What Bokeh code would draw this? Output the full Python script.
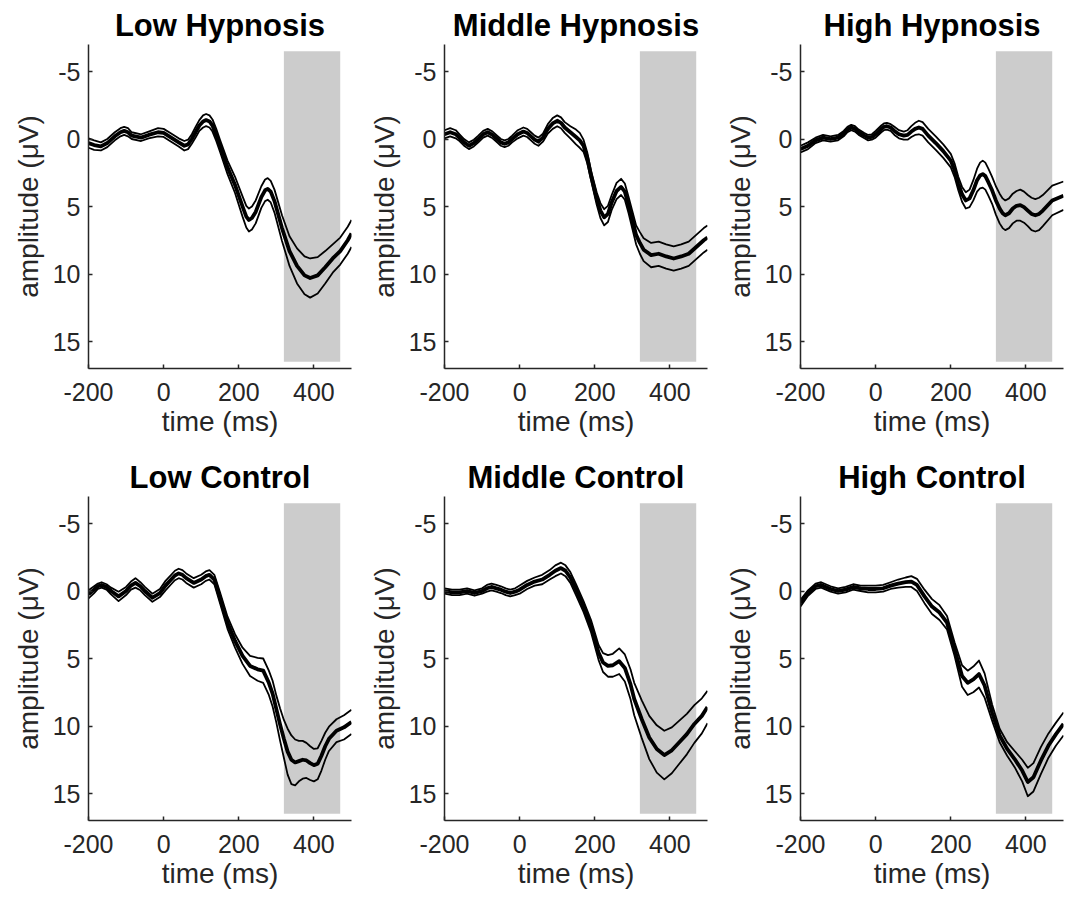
import numpy as np
from bokeh.plotting import figure
from bokeh.models import Range1d, FixedTicker
from bokeh.layouts import row, column
from bokeh.embed import file_html
from bokeh.resources import INLINE

TITLES = ["Low Hypnosis", "Middle Hypnosis", "High Hypnosis",
          "Low Control", "Middle Control", "High Control"]
X_TICKS = [-200, 0, 200, 400]
Y_TICKS = [-5, 0, 5, 10, 15]
X_LIMITS = [-200, 500]
Y_LIMITS = [-7, 17]
WINDOW_T = [320, 470]
WINDOW_AMP = [-6.5, 16.5]

# Low Hypnosis
LH_T = [-200, -185, -167, -150, -130, -115, -105, -95, -85, -60,
        -40, -15, 0, 20, 40, 55, 65, 75, 85, 95,
        105, 113, 122, 130, 140, 150, 170, 190, 210, 220,
        227, 235, 245, 260, 270, 277, 285, 295, 315, 335,
        355, 375, 390, 410, 430, 450, 470, 490, 500]
LH_MEAN = [0.3, 0.45, 0.55, 0.3, -0.2, -0.5, -0.6, -0.5, -0.25, -0.1,
           -0.3, -0.5, -0.45, -0.1, 0.25, 0.5, 0.4, 0.0, -0.5, -1.0,
           -1.3, -1.4, -1.3, -1.0, -0.3, 0.5, 2.1, 3.4, 5.0, 5.75,
           6.0, 5.85, 5.4, 4.3, 3.8, 3.7, 3.9, 4.6, 6.6, 8.3,
           9.4, 10.1, 10.3, 10.1, 9.5, 8.85, 8.3, 7.5, 7.0]
LH_SE = [0.35, 0.35, 0.3, 0.3, 0.3, 0.3, 0.3, 0.3, 0.25, 0.25,
         0.25, 0.3, 0.3, 0.3, 0.3, 0.35, 0.35, 0.35, 0.4, 0.4,
         0.45, 0.45, 0.45, 0.45, 0.45, 0.45, 0.5, 0.6, 0.75, 0.8,
         0.85, 0.85, 0.85, 0.8, 0.8, 0.8, 0.8, 0.85, 0.95, 1.1,
         1.3, 1.4, 1.45, 1.35, 1.2, 1.05, 1.0, 1.0, 1.0]

# Middle Hypnosis
MH_T = [-200, -185, -170, -160, -148, -135, -122, -110, -97, -85,
        -72, -60, -50, -40, -30, -20, -5, 10, 20, 30,
        40, 50, 62, 75, 88, 100, 110, 120, 135, 150,
        160, 170, 180, 190, 205, 215, 225, 235, 245, 258,
        270, 280, 290, 300, 310, 320, 330, 350, 370, 390,
        410, 430, 450, 470, 490, 500]
MH_MEAN = [-0.35, -0.5, -0.35, -0.1, 0.25, 0.5, 0.3, 0.0, -0.35, -0.5,
           -0.3, 0.0, 0.25, 0.35, 0.25, 0.0, -0.35, -0.55, -0.45, -0.2,
           0.05, 0.2, -0.1, -0.75, -1.15, -1.35, -1.2, -0.85, -0.5, -0.15,
           0.1, 0.5, 1.4, 2.7, 4.4, 5.3, 5.8, 5.55, 4.7, 3.85,
           3.55, 3.9, 4.9, 6.0, 7.1, 7.7, 8.2, 8.6, 8.5, 8.7,
           8.85, 8.7, 8.5, 8.0, 7.5, 7.3]
MH_SE = [0.3, 0.3, 0.3, 0.25, 0.25, 0.25, 0.25, 0.25, 0.25, 0.25,
         0.25, 0.25, 0.25, 0.25, 0.25, 0.25, 0.3, 0.3, 0.3, 0.3,
         0.3, 0.3, 0.3, 0.35, 0.4, 0.4, 0.4, 0.4, 0.45, 0.55,
         0.55, 0.45, 0.4, 0.35, 0.45, 0.55, 0.6, 0.6, 0.55, 0.6,
         0.6, 0.6, 0.6, 0.65, 0.7, 0.8, 0.85, 0.9, 0.9, 0.9,
         0.9, 0.9, 0.9, 0.9, 0.9, 0.9]

# High Hypnosis
HH_T = [-200, -180, -160, -140, -120, -100, -85, -75, -65, -55,
        -45, -30, -20, -10, 0, 15, 22, 30, 40, 50,
        62, 75, 85, 95, 105, 115, 125, 140, 160, 180,
        200, 210, 220, 230, 240, 250, 260, 270, 278, 285,
        292, 300, 310, 320, 330, 338, 345, 355, 365, 375,
        385, 395, 405, 415, 425, 435, 445, 470, 500]
HH_MEAN = [0.75, 0.5, 0.1, -0.1, 0.0, -0.1, -0.4, -0.7, -0.85, -0.75,
           -0.5, -0.25, -0.1, -0.15, -0.35, -0.75, -0.9, -0.95, -0.85, -0.6,
           -0.35, -0.25, -0.3, -0.55, -0.75, -0.85, -0.75, -0.25, 0.3, 0.9,
           1.6, 2.3, 3.3, 4.1, 4.55, 4.4, 3.8, 3.05, 2.7, 2.6,
           2.75, 3.2, 3.8, 4.55, 5.15, 5.5, 5.65, 5.5, 5.15, 4.95,
           4.9, 5.05, 5.3, 5.55, 5.65, 5.55, 5.3, 4.55, 4.2]
HH_SE = [0.25, 0.25, 0.2, 0.2, 0.2, 0.2, 0.2, 0.2, 0.2, 0.2,
         0.2, 0.2, 0.2, 0.2, 0.25, 0.25, 0.25, 0.25, 0.25, 0.3,
         0.3, 0.3, 0.35, 0.4, 0.45, 0.5, 0.5, 0.5, 0.5, 0.5,
         0.5, 0.5, 0.5, 0.55, 0.6, 0.65, 0.75, 0.85, 0.95, 1.0,
         1.0, 1.0, 1.0, 1.05, 1.1, 1.1, 1.1, 1.1, 1.1, 1.1,
         1.15, 1.15, 1.15, 1.2, 1.2, 1.2, 1.15, 1.1, 1.05]

# Low Control
LC_T = [-200, -185, -175, -165, -152, -140, -120, -100, -87, -75,
        -62, -50, -30, -10, 5, 20, 30, 40, 50, 60,
        80, 100, 112, 122, 135, 150, 170, 190, 210, 230,
        250, 265, 280, 290, 300, 310, 320, 330, 340, 350,
        360, 370, 380, 390, 400, 410, 420, 430, 440, 460,
        480, 500]
LC_MEAN = [0.25, -0.1, -0.35, -0.45, -0.3, 0.0, 0.4, 0.0, -0.4, -0.6,
           -0.35, 0.0, 0.5, 0.15, -0.4, -0.85, -1.15, -1.3, -1.2, -0.95,
           -0.6, -0.85, -1.1, -1.2, -0.85, 0.5, 2.35, 3.7, 4.8, 5.55,
           5.8, 5.9, 6.8, 7.6, 8.75, 9.9, 10.95, 11.9, 12.5, 12.7,
           12.6, 12.5, 12.55, 12.75, 12.9, 12.8, 12.2, 11.5, 10.95, 10.35,
           10.1, 9.7]
LC_SE = [0.3, 0.25, 0.2, 0.2, 0.2, 0.25, 0.35, 0.3, 0.3, 0.35,
         0.3, 0.3, 0.3, 0.3, 0.35, 0.35, 0.35, 0.35, 0.35, 0.35,
         0.35, 0.35, 0.35, 0.35, 0.35, 0.4, 0.45, 0.5, 0.6, 0.75,
         0.85, 0.9, 0.9, 0.95, 1.0, 1.2, 1.4, 1.7, 1.8, 1.7,
         1.5, 1.4, 1.3, 1.25, 1.2, 1.15, 1.1, 1.0, 0.9, 0.85,
         0.9, 0.9]

# Middle Control
MC_T = [-200, -180, -160, -140, -120, -100, -87, -75, -62, -50,
        -37, -25, -12, 0, 20, 40, 60, 80, 95, 110,
        122, 135, 150, 170, 190, 210, 222, 235, 248, 265,
        280, 295, 305, 325, 345, 365, 385, 405, 425, 445,
        465, 485, 500]
MC_MEAN = [0.0, 0.1, 0.1, 0.0, 0.15, 0.0, -0.2, -0.3, -0.2, -0.1,
           0.05, 0.15, 0.05, -0.1, -0.45, -0.7, -0.85, -1.2, -1.5, -1.7,
           -1.5, -1.0, -0.1, 1.15, 2.6, 4.55, 5.3, 5.55, 5.5, 5.2,
           5.7, 6.9, 8.0, 9.5, 10.85, 11.7, 12.15, 11.8, 11.2, 10.6,
           9.85, 9.25, 8.6]
MC_SE = [0.2, 0.2, 0.2, 0.2, 0.2, 0.2, 0.25, 0.25, 0.25, 0.25,
         0.25, 0.25, 0.25, 0.3, 0.3, 0.3, 0.35, 0.35, 0.4, 0.4,
         0.4, 0.4, 0.4, 0.4, 0.45, 0.55, 0.7, 0.8, 0.85, 0.95,
         1.0, 1.1, 1.2, 1.4, 1.6, 1.75, 1.8, 1.7, 1.6, 1.5,
         1.4, 1.3, 1.2]

# High Control
HC_T = [-200, -180, -160, -145, -120, -100, -80, -60, -40, -20,
        0, 20, 40, 60, 80, 95, 110, 130, 150, 170,
        190, 210, 230, 245, 260, 275, 290, 310, 330, 350,
        370, 390, 405, 420, 440, 460, 480, 500]
HC_MEAN = [0.9, 0.15, -0.35, -0.45, -0.15, 0.0, -0.1, -0.3, -0.2, -0.15,
           -0.15, -0.2, -0.4, -0.55, -0.65, -0.7, -0.45, 0.4, 1.15, 1.6,
           2.35, 4.3, 6.3, 6.8, 6.55, 6.15, 7.0, 9.0, 10.7, 11.7,
           12.45, 13.3, 14.15, 13.8, 12.55, 11.45, 10.6, 9.85]
HC_SE = [0.25, 0.2, 0.2, 0.2, 0.2, 0.2, 0.2, 0.2, 0.2, 0.25,
         0.25, 0.25, 0.25, 0.3, 0.35, 0.4, 0.45, 0.5, 0.55, 0.55,
         0.5, 0.5, 0.8, 0.9, 0.95, 1.0, 0.9, 0.6, 0.5, 0.5,
         0.6, 0.8, 1.05, 1.05, 1.0, 0.9, 0.85, 0.85]

SERIES = [(LH_T, LH_MEAN, LH_SE), (MH_T, MH_MEAN, MH_SE), (HH_T, HH_MEAN, HH_SE),
          (LC_T, LC_MEAN, LC_SE), (MC_T, MC_MEAN, MC_SE), (HC_T, HC_MEAN, HC_SE)]

FONT = "Liberation Sans"
AXIS_COLOR = "#262626"


def make_panel(title, t, mean, se, last_col, last_row):
    p = figure(frame_width=263, frame_height=324,
               x_range=Range1d(X_LIMITS[0], X_LIMITS[1]),
               y_range=Range1d(Y_LIMITS[1], Y_LIMITS[0]),
               output_backend="svg", toolbar_location=None,
               min_border_left=88, min_border_right=3 if last_col else 5,
               min_border_top=44, min_border_bottom=76 if last_row else 84)
    p.outline_line_color = None
    p.background_fill_color = "white"
    p.border_fill_color = "white"
    p.xgrid.visible = False
    p.ygrid.visible = False

    p.title.text = title
    p.title.align = "center"
    p.title.text_font = FONT
    p.title.text_font_size = "31px"
    p.title.text_font_style = "bold"
    p.title.text_color = "black"
    p.title.standoff = 4

    p.quad(left=WINDOW_T[0], right=WINDOW_T[1], bottom=WINDOW_AMP[1], top=WINDOW_AMP[0],
           fill_color="#cccccc", line_color=None)

    t = np.array(t, dtype=float)
    m = np.array(mean, dtype=float)
    s = np.array(se, dtype=float)
    p.line(t, m - s, line_color="black", line_width=1.8, line_join="round")
    p.line(t, m + s, line_color="black", line_width=1.8, line_join="round")
    p.line(t, m, line_color="black", line_width=3.8, line_join="round")

    p.xaxis.ticker = FixedTicker(ticks=X_TICKS)
    p.yaxis.ticker = FixedTicker(ticks=Y_TICKS)
    p.xaxis.major_label_overrides = {v: str(v) for v in X_TICKS}
    p.yaxis.major_label_overrides = {v: str(v) for v in Y_TICKS}
    p.xaxis.axis_label = "time (ms)"
    p.yaxis.axis_label = "amplitude (\u03bcV)"
    for ax in (p.xaxis[0], p.yaxis[0]):
        ax.axis_line_color = AXIS_COLOR
        ax.axis_line_width = 1.5
        ax.major_tick_line_color = AXIS_COLOR
        ax.major_tick_line_width = 1.5
        ax.major_tick_in = 4
        ax.major_tick_out = 0
        ax.minor_tick_line_color = None
        ax.major_label_text_font = FONT
        ax.major_label_text_font_size = "25px"
        ax.major_label_text_color = AXIS_COLOR
        ax.axis_label_text_font = FONT
        ax.axis_label_text_font_size = "28px"
        ax.axis_label_text_font_style = "normal"
        ax.axis_label_text_color = AXIS_COLOR
    p.xaxis.major_label_standoff = 14
    p.xaxis.axis_label_standoff = 2
    p.yaxis.major_label_standoff = 8
    p.yaxis.axis_label_standoff = 6
    return p


panels = []
for i, (title, (t, m, s)) in enumerate(zip(TITLES, SERIES)):
    panels.append(make_panel(title, t, m, s, last_col=(i % 3 == 2), last_row=(i >= 3)))

layout = column(row(panels[0], panels[1], panels[2]), row(panels[3], panels[4], panels[5]))

open("out.html", "w").write(file_html(layout, INLINE))
